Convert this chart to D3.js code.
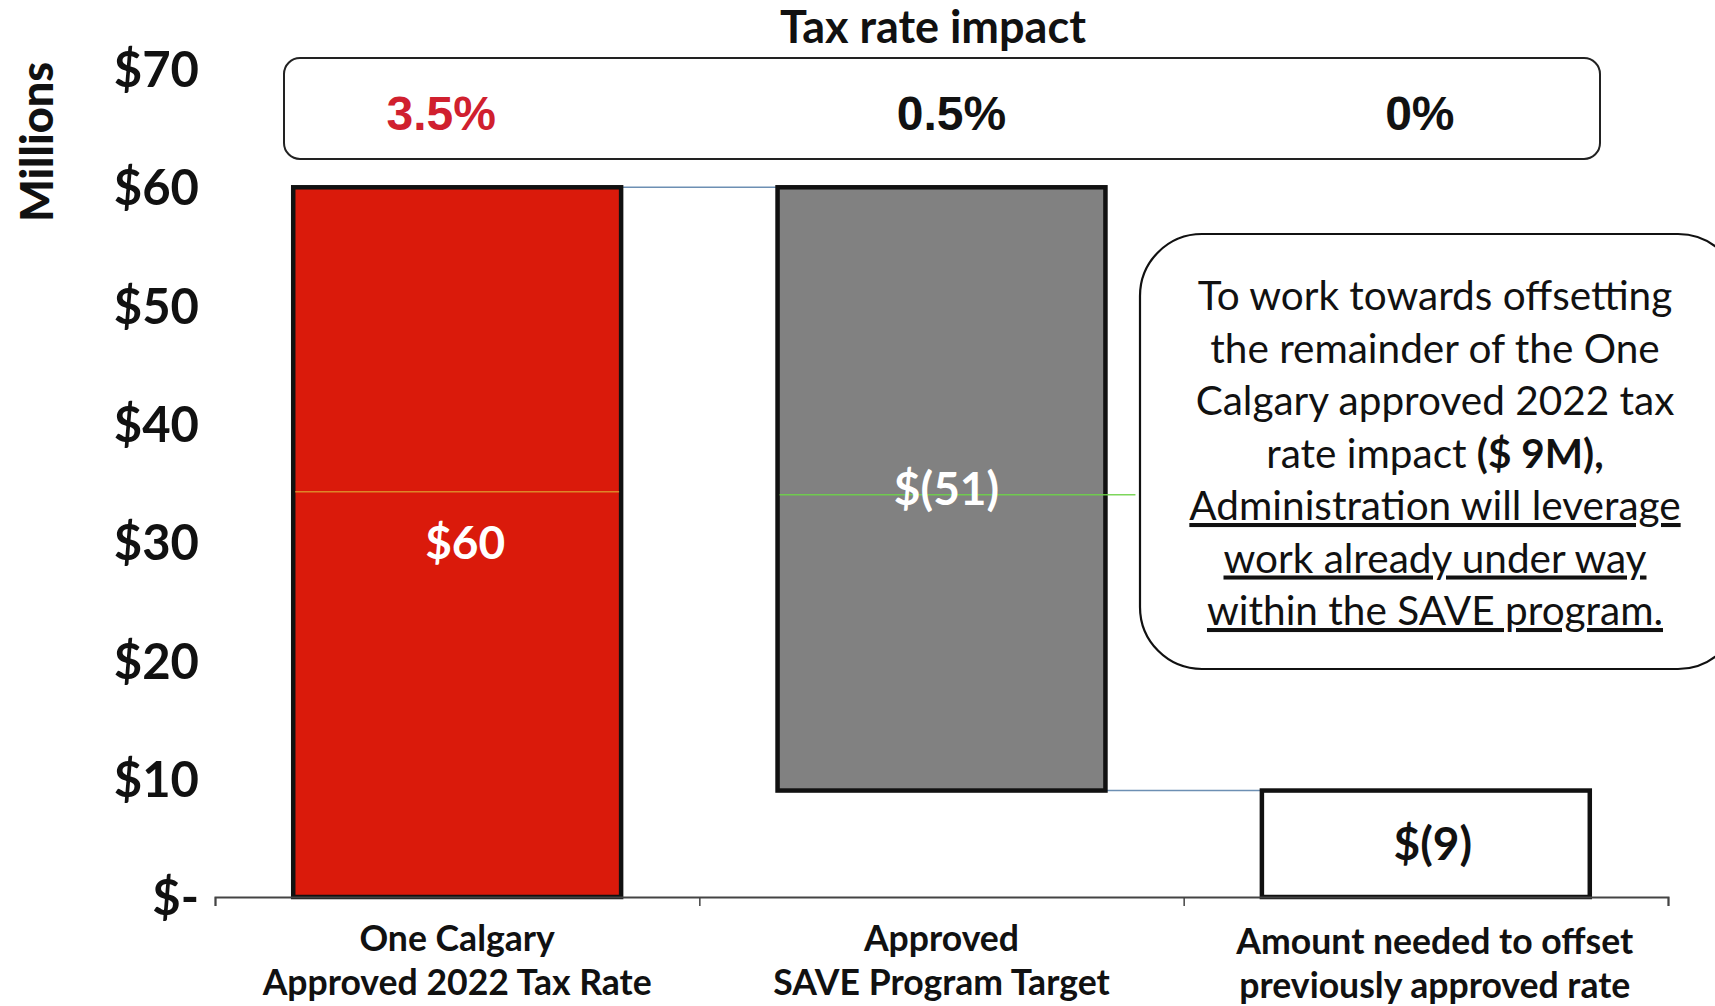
<!DOCTYPE html>
<html>
<head>
<meta charset="utf-8">
<script src="https://cdn.jsdelivr.net/npm/d3@7"></script>
<style>
  html, body { margin: 0; padding: 0; background: #ffffff; }
  svg { display: block; }
</style>
</head>
<body>
<svg id="chart" width="1715" height="1006"></svg>
<script>
// ---------------- data ----------------
const categories = ["One Calgary|Approved 2022 Tax Rate", "Approved|SAVE Program Target", "Amount needed to offset|previously approved rate"];
const barStart = [0, 60, 9];      // waterfall start values ($M)
const barEnd   = [60, 9, 0];      // waterfall end values ($M)
const valueLabels = ["$60", "$(51)", "$(9)"];
const taxImpact = ["3.5%", "0.5%", "0%"];
const yTicks = [0, 10, 20, 30, 40, 50, 60, 70];
const yTickLabels = ["$-", "$10", "$20", "$30", "$40", "$50", "$60", "$70"];
const calloutLines = [
  [{t: "To work towards offsetting"}],
  [{t: "the remainder of the One"}],
  [{t: "Calgary approved 2022 tax"}],
  [{t: "rate impact "}, {t: "($ 9M),", b: true}],
  [{t: "Administration will leverage", u: true}],
  [{t: "work already under way", u: true}],
  [{t: "within the SAVE program.", u: true}]
];

// ---------------- layout ----------------
const svg = d3.select("#chart");
const FONT = "Lato, 'Open Sans', sans-serif";

const x = d3.scaleBand().domain(d3.range(categories.length)).range([215, 1668]).paddingInner(0.323).paddingOuter(0.1615);
const y = d3.scaleLinear().domain([0, 70]).range([897, 69]);

const barColors = ["#da1a0b", "#818181", "#ffffff"];
const labelColors = ["#ffffff", "#ffffff", "#111111"];

// Title
svg.append("text").attr("x", 933).attr("y", 43).attr("text-anchor", "middle")
  .attr("font-family", FONT).attr("font-weight", 700).attr("font-size", 45)
  .attr("fill", "#111").text("Tax rate impact");

// Tax rate impact box
svg.append("rect").attr("x", 284).attr("y", 58).attr("width", 1316).attr("height", 101)
  .attr("rx", 16).attr("fill", "#fff").attr("stroke", "#222").attr("stroke-width", 2);
const pctOffset = [-16, 10, -6];
svg.selectAll(".pct").data(taxImpact).join("text").attr("class", "pct")
  .attr("x", (d, i) => x(i) + x.bandwidth() / 2 + pctOffset[i])
  .attr("y", 130).attr("text-anchor", "middle")
  .attr("font-family", "'Liberation Sans', Arial, sans-serif").attr("font-weight", 700).attr("font-size", 48)
  .attr("fill", (d, i) => i === 0 ? "#d0202e" : "#111").text(d => d);

// Y axis title
svg.append("text").attr("transform", "translate(53,142) rotate(-90)").attr("text-anchor", "middle")
  .attr("font-family", FONT).attr("font-weight", 900).attr("font-size", 45).attr("fill", "#111")
  .text("Millions");

// Y axis (labels only)
const yAxis = d3.axisLeft(y).tickValues(yTicks).tickFormat((d, i) => yTickLabels[i]).tickSize(0).tickPadding(0);
const gy = svg.append("g").attr("transform", "translate(199,0)").call(yAxis);
gy.select(".domain").remove();
gy.selectAll("text").attr("font-family", FONT).attr("font-weight", 700).attr("font-size", 49)
  .attr("fill", "#111").attr("dy", "0.36em");

// Connectors
const connectors = [0, 1];
svg.selectAll(".conn").data(connectors).join("line").attr("class", "conn")
  .attr("x1", i => x(i) + x.bandwidth()).attr("x2", i => x(i + 1))
  .attr("y1", i => y(barEnd[i])).attr("y2", i => y(barEnd[i]))
  .attr("stroke", "#6d8fb3").attr("stroke-width", 1.5);

// Bars
svg.selectAll(".bar").data(categories).join("rect").attr("class", "bar")
  .attr("x", (d, i) => x(i))
  .attr("y", (d, i) => y(Math.max(barStart[i], barEnd[i])))
  .attr("width", x.bandwidth())
  .attr("height", (d, i) => Math.abs(y(barStart[i]) - y(barEnd[i])))
  .attr("fill", (d, i) => barColors[i]).attr("stroke", "#111").attr("stroke-width", 4.5);

// faint scan line across the first two bars
const scanVal = 34;
svg.append("line").attr("x1", x(0) + 2).attr("x2", x(0) + x.bandwidth() - 2)
  .attr("y1", y(scanVal) - 3).attr("y2", y(scanVal) - 3).attr("stroke", "#e0a030").attr("stroke-width", 1.5).attr("opacity", 0.8);
svg.append("line").attr("x1", x(1) + 2).attr("x2", x(1) + x.bandwidth() + 30)
  .attr("y1", y(scanVal)).attr("y2", y(scanVal)).attr("stroke", "#6fd24a").attr("stroke-width", 1.5).attr("opacity", 0.9);

// X axis
const xAxisScale = d3.scaleLinear().domain([0, 3]).range([215, 1668]);
const gx = svg.append("g").attr("transform", `translate(0,${y(0)})`)
  .call(d3.axisBottom(xAxisScale).tickValues([0, 1, 2, 3]).tickSize(9).tickFormat(""));
gx.select(".domain").attr("stroke", "#444").attr("stroke-width", 2);
gx.selectAll(".tick line").attr("stroke", "#444").attr("stroke-width", 1.5);

// Value labels
svg.selectAll(".val").data(valueLabels).join("text").attr("class", "val")
  .attr("x", (d, i) => x(i) + x.bandwidth() / 2 + (i === 0 ? 8 : (i === 2 ? 7 : 5)))
  .attr("y", (d, i) => (y(barStart[i]) + y(barEnd[i])) / 2)
  .attr("dy", "0.36em").attr("text-anchor", "middle")
  .attr("font-family", FONT).attr("font-weight", 700).attr("font-size", 46)
  .attr("fill", (d, i) => labelColors[i]).text(d => d);

// Category labels
const catOffset = [0, 0, 9];
svg.selectAll(".cat").data(categories).join("text").attr("class", "cat")
  .attr("text-anchor", "middle").attr("font-family", FONT).attr("font-weight", 700).attr("font-size", 35.6)
  .attr("fill", "#111")
  .each(function(d, i) {
    const t = d3.select(this);
    const cx = x(i) + x.bandwidth() / 2 + catOffset[i];
    d.split("|").forEach((line, j) => {
      t.append("tspan").attr("x", cx).attr("y", (i === 2 ? 954 : 951) + j * 44).text(line);
    });
  });

// Callout box
svg.append("rect").attr("x", 1140).attr("y", 234).attr("width", 600).attr("height", 435)
  .attr("rx", 62).attr("fill", "#fff").attr("stroke", "#111").attr("stroke-width", 2.2);
const callout = svg.append("text").attr("text-anchor", "middle").attr("font-family", FONT)
  .attr("font-size", 40.5).attr("fill", "#111");
calloutLines.forEach((parts, j) => {
  parts.forEach((p, k) => {
    const ts = callout.append("tspan").text(p.t);
    if (k === 0) ts.attr("x", 1435).attr("y", 310 + j * 52.5);
    if (p.b) ts.attr("font-weight", 700);
    if (p.u) ts.attr("text-decoration", "underline");
  });
});
</script>
</body>
</html>
